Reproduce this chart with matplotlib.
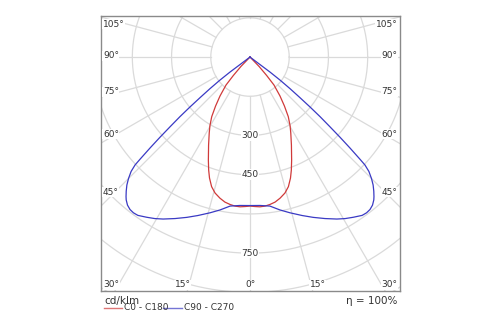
"""Polar luminous intensity curve (cd/klm), C0-C180 and C90-C270 planes."""

import numpy as np
from matplotlib import pyplot as plt
from matplotlib.lines import Line2D

# gamma angles (deg) and intensities (cd/klm), bottom -> centre
gamma_c0 = [0, 1.9, 3.8, 5.7, 7.7, 9.8, 12.0, 14.4, 16.5, 18.5, 20.1, 22.0, 25.2, 28.2,
            30.2, 32.7, 35.1, 37.6, 40.6, 42.1, 44.0, 45.0]
intensity_c0 = [570, 572, 574, 573, 569, 563, 552, 537, 517, 488, 460, 425, 372, 330,
                305, 271, 229, 188, 141, 95, 50, 0]

gamma_c90 = [0, 3.9, 7.6, 11.1, 14.4, 18.2, 21.5, 24.9, 28.2, 30.5, 32.8, 35.3, 36.8,
             38.2, 39.6, 40.9, 41.6, 42.7, 43.9, 45.0, 46.1, 46.8, 47.1, 47.7, 48.3,
             48.9, 49.6, 50.25, 50.9, 51.7, 52.5, 53.1, 53.1, 54.0]
intensity_c90 = [568, 569, 575, 596, 615, 638, 659, 681, 703, 717, 729, 742, 744,
                 742, 735, 723, 714, 698, 679, 657, 631, 603, 574, 517, 461,
                 406, 352, 298, 246, 195, 145, 96, 48, 0]

ring_values = [150, 300, 450, 600, 750, 900, 1050]
ring_labels = [300, 450, 750]
spoke_angles = np.arange(0, 360, 15)
side_labels = ["105°", "90°", "75°", "60°", "45°"]
bottom_labels = ["30°", "15°", "0°", "15°", "30°"]

RED = "#d03a3a"
BLUE = "#3a3ac4"
GRID = "#dadada"


def to_xy(gamma, intensity):
    g = np.radians(gamma)
    i = np.asarray(intensity, dtype=float)
    return i * np.sin(g), -i * np.cos(g)


fig = plt.figure(figsize=(5, 3.25), dpi=100)
ax = fig.add_axes([0.201, 0.1046, 0.599, 0.846])

# grid: rings and spokes
t = np.linspace(0, 2 * np.pi, 400)
for r in ring_values:
    ax.plot(r * np.cos(t), r * np.sin(t), color=GRID, lw=0.9, zorder=1)
for a in spoke_angles:
    x0, y0 = to_xy(a, ring_values[0])
    x1, y1 = to_xy(a, 1200)
    ax.plot([x0, x1], [y0, y1], color=GRID, lw=0.9, zorder=1)

# curves, mirrored for both half planes
for gam, inten, col in [(gamma_c0, intensity_c0, RED), (gamma_c90, intensity_c90, BLUE)]:
    x, y = to_xy(gam, inten)
    xs = np.concatenate([-x[::-1], x[1:]])
    ys = np.concatenate([y[::-1], y[1:]])
    ax.plot(xs, ys, color=col, lw=0.9, zorder=3, solid_joinstyle="round")

for v in ring_labels:
    ax.text(0, -v, str(v), ha="center", va="center", fontsize=6.5, color="#333333",
            bbox=dict(facecolor="white", edgecolor="none", pad=0.6), zorder=2)

ax.set_xlim(-571.7, 573.6)
ax.set_ylim(-894.8, 156.8)
ax.set_xticks([])
ax.set_yticks([])
for s in ax.spines.values():
    s.set_color("#8a8a8a")
    s.set_linewidth(1.0)

lbl_kw = dict(fontsize=6.5, color="#333333", transform=ax.transAxes, va="center",
              bbox=dict(facecolor="white", edgecolor="none", pad=0.3), zorder=4)
for lbl, yf in zip(side_labels, [0.971, 0.855, 0.724, 0.571, 0.36]):
    ax.text(0.008, yf, lbl, ha="left", **lbl_kw)
    ax.text(0.992, yf, lbl, ha="right", **lbl_kw)
for lbl, xf in zip(bottom_labels, [0.036, 0.274, 0.5, 0.726, 0.964]):
    ax.text(xf, 0.022, lbl, ha="center", **lbl_kw)

# footer
fig.text(0.208, 0.075, "cd/klm", fontsize=7.5, color="#333333", va="center")
fig.text(0.794, 0.075, "η = 100%", fontsize=7.5, color="#333333", va="center", ha="right")
fig.add_artist(Line2D([0.208, 0.244], [0.053, 0.053], color=RED, lw=1.0, alpha=0.7))
fig.text(0.248, 0.053, "C0 - C180", fontsize=6.5, color="#333333", va="center")
fig.add_artist(Line2D([0.326, 0.364], [0.053, 0.053], color=BLUE, lw=1.0, alpha=0.7))
fig.text(0.368, 0.053, "C90 - C270", fontsize=6.5, color="#333333", va="center")

plt.savefig("out.png", dpi=100)
